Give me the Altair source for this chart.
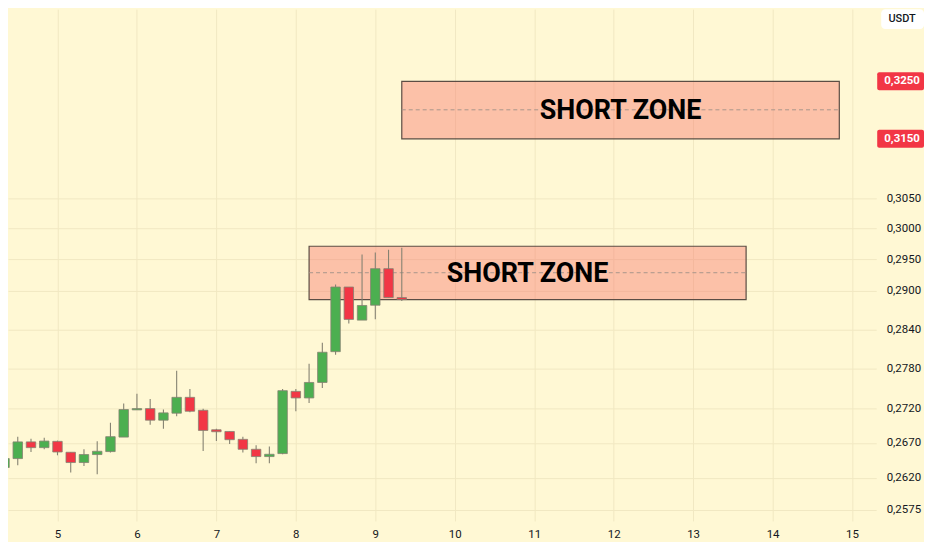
import altair as alt
import pandas as pd

# ---- 4h candles (price in USDT) ----
opens  = [0.26347, 0.26475, 0.26716, 0.26633, 0.26724, 0.26566, 0.26418, 0.26533,
          0.26576, 0.26786, 0.27185, 0.27204, 0.27033, 0.27136, 0.27371, 0.27179,
          0.26893, 0.26868, 0.26753, 0.26609, 0.26504, 0.26547, 0.27460, 0.27362,
          0.27593, 0.28059, 0.29062, 0.28544, 0.28776, 0.29353, 0.28896]
highs  = [0.26537, 0.26792, 0.26763, 0.26777, 0.26735, 0.26566, 0.26609, 0.26724,
          0.26995, 0.27278, 0.27426, 0.27347, 0.27190, 0.27768, 0.27495, 0.27200,
          0.26908, 0.26868, 0.26792, 0.26666, 0.26648, 0.27495, 0.27495, 0.27874,
          0.28196, 0.29100, 0.29062, 0.29580, 0.29612, 0.29655, 0.29687]
lows   = [0.26284, 0.26380, 0.26570, 0.26609, 0.26522, 0.26276, 0.26370, 0.26252,
          0.26561, 0.26786, 0.27185, 0.26966, 0.26908, 0.27092, 0.27150, 0.26584,
          0.26728, 0.26685, 0.26561, 0.26408, 0.26408, 0.26537, 0.27165, 0.27288,
          0.27510, 0.28010, 0.28493, 0.28544, 0.28559, 0.28896, 0.28843]
closes = [0.26475, 0.26716, 0.26633, 0.26728, 0.26570, 0.26418, 0.26533, 0.26580,
          0.26792, 0.27190, 0.27204, 0.27033, 0.27141, 0.27371, 0.27165, 0.26883,
          0.26864, 0.26748, 0.26609, 0.26504, 0.26537, 0.27470, 0.27362, 0.27593,
          0.28050, 0.29062, 0.28555, 0.28772, 0.29353, 0.28896, 0.28865]
first_candle_day = 4 + 2 / 6          # day 4, 08:00
candle_step_days = 1 / 6              # 4 hours
times = [first_candle_day + i * candle_step_days for i in range(len(opens))]

# ---- zones ----
zone_start = [9.3333, 8.1667]
zone_end   = [14.84, 13.667]
zone_low   = [0.3150, 0.28865]
zone_high  = [0.3250, 0.29713]
zone_text  = ["SHORT ZONE", "SHORT ZONE"]

# ---- axes ----
x_ticks = [5, 6, 7, 8, 9, 10, 11, 12, 13, 14, 15]
y_ticks = [0.2575, 0.2620, 0.2670, 0.2720, 0.2780, 0.2840, 0.2900, 0.2950, 0.3000, 0.3050]
highlight_prices = [zone_high[0], zone_low[0]]
currency = ["USDT"]

candles = pd.DataFrame({"t": times, "open": opens, "high": highs, "low": lows, "close": closes})
zones = pd.DataFrame({"start": zone_start, "end": zone_end, "low": zone_low,
                      "high": zone_high, "label": zone_text})
hl = pd.DataFrame({"price": highlight_prices})
cur = pd.DataFrame({"label": currency})

BG = "#fff8d4"
GRID = "#f1e8c2"
GREEN = "#4caf50"
RED = "#f23645"
WICK = "#858272"

xscale = alt.Scale(domain=[4.3772, 15.3045], nice=False, zero=False, padding=0)
yscale = alt.Scale(type="log", domain=[0.25593, 0.33799], nice=False, zero=False, padding=0)

xaxis = alt.Axis(values=x_ticks, format="d", grid=True, gridColor=GRID, domain=False,
                 ticks=False, labelPadding=8, labelFont="Roboto", labelFontSize=11.5,
                 labelColor="#131722")
yaxis = alt.Axis(orient="right", values=y_ticks,
                 labelExpr="replace(format(datum.value, '.4f'), '.', ',')",
                 grid=True, gridColor=GRID, domain=False, ticks=False, labelPadding=10,
                 labelFont="Roboto", labelFontSize=11.5, labelColor="#131722")

base_z = alt.Chart(zones)

zone_rect = base_z.mark_rect(fill="#f8746c", fillOpacity=0.42, stroke="#5b4d44",
                             strokeWidth=1.2).encode(
    x=alt.X("start:Q", scale=xscale, axis=xaxis, title=None),
    x2="end:Q",
    y=alt.Y("low:Q", scale=yscale, axis=yaxis, title=None),
    y2="high:Q",
)

zone_mid = base_z.transform_calculate(mid="(datum.low + datum.high) / 2").mark_rule(
    color="#a8968a", strokeDash=[4, 3], strokeWidth=1).encode(
    x=alt.X("start:Q", title=None), x2="end:Q", y=alt.Y("mid:Q", title=None))

zone_label = base_z.transform_calculate(
    mid="(datum.low + datum.high) / 2", cx="(datum.start + datum.end) / 2"
).mark_text(font="Roboto", fontSize=27, fontWeight="bold", color="#000000",
            baseline="middle", align="center", dy=1).encode(
    x=alt.X("cx:Q", title=None), y=alt.Y("mid:Q", title=None), text="label:N")

base_c = alt.Chart(candles)
up = "datum.close >= datum.open"

wicks = base_c.mark_rule(color=WICK, strokeWidth=1.1, clip=True).encode(
    x=alt.X("t:Q", title=None), y=alt.Y("low:Q", title=None), y2="high:Q")

bodies = base_c.mark_bar(size=9.5, strokeWidth=0.8, clip=True).encode(
    x=alt.X("t:Q", title=None),
    y=alt.Y("open:Q", title=None), y2="close:Q",
    fill=alt.condition(up, alt.value(GREEN), alt.value(RED)),
    stroke=alt.value(WICK),
)

hl_box = alt.Chart(hl).mark_rect(height=18, cornerRadius=2, color=RED).encode(
    x=alt.value(873), x2=alt.value(920), y=alt.Y("price:Q", title=None))
hl_text = alt.Chart(hl).transform_calculate(
    lab="replace(format(datum.price, '.4f'), '.', ',')"
).mark_text(font="Roboto", fontSize=11.5, fontWeight="bold", color="#ffffff",
            align="center", baseline="middle").encode(
    x=alt.value(898), y=alt.Y("price:Q", title=None), text="lab:N")

cur_box = alt.Chart(cur).mark_rect(color="#ffffff", cornerRadius=4).encode(
    x=alt.value(877), x2=alt.value(920), y=alt.value(0), y2=alt.value(20))
cur_text = alt.Chart(cur).mark_text(font="Roboto", fontSize=11, fontWeight=500,
                                    color="#131722", align="center",
                                    baseline="middle").encode(
    x=alt.value(898), y=alt.value(10), text="label:N")

chart = alt.layer(
    zone_rect, zone_mid, wicks, bodies, zone_label, hl_box, hl_text, cur_box, cur_text
).properties(
    width=872, height=514, background=BG,
    padding={"left": 0, "top": 0, "right": 48, "bottom": 20},
    autosize=alt.AutoSizeParams(type="none"),
).configure_view(stroke=None)

chart.save("out.html", embed_options={"renderer": "svg", "actions": False})
